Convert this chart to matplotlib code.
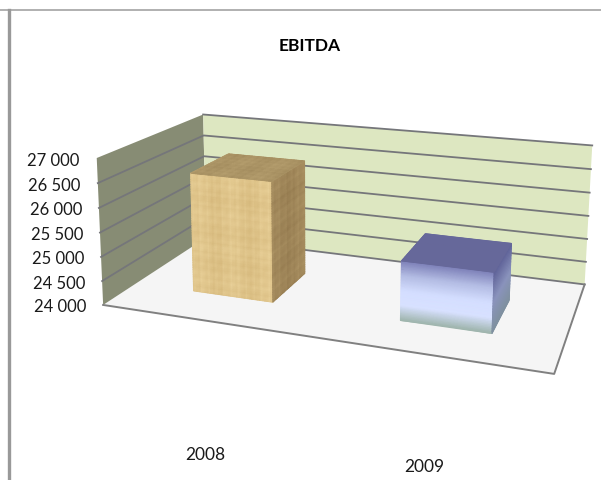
#!/usr/bin/env python3
"""
EBITDA 3D-style column chart, drawn on a flat axes with a small camera fit
"""

import numpy as np
import matplotlib.pyplot as plt
from matplotlib.colors import LinearSegmentedColormap

years = ["2008", "2009"]
ebitda = [26500, 25200]
tick_values = [24000, 24500, 25000, 25500, 26000, 26500, 27000]
tick_labels = ["24 000", "24 500", "25 000", "25 500", "26 000", "26 500", "27 000"]

plt.rcParams['font.family'] = ['Lato', 'DejaVu Sans']

Y_MIN = tick_values[0]
Y_MAX = tick_values[-1]

# Box corners (u, v, w) -> picture pixels. u across, v depth, w height
corners = [
    ((0, 0, 0), (104, 305)),
    ((0, 0, 1), (96, 159)),
    ((0, 1, 0), (205, 240)),
    ((0, 1, 1), (204, 115)),
    ((1, 1, 0), (585, 284)),
    ((1, 1, 1), (592, 147)),
    ((1, 0, 0), (554, 376)),
]

rows = []
for (u, v, w), (px, py) in corners:
    rows.append([u, v, w, 1, 0, 0, 0, 0, -px*u, -px*v, -px*w, -px])
    rows.append([0, 0, 0, 0, u, v, w, 1, -py*u, -py*v, -py*w, -py])
camera = np.linalg.svd(np.array(rows, dtype=float))[2][-1].reshape(3, 4)


def project(u, v, w):
    """
    Camera projection, gives picture x and y
    """
    u, v, w = np.broadcast_arrays(u, v, w)
    pts = np.stack([u, v, w, np.ones_like(u, dtype=float)], axis=-1)
    q = pts @ camera.T
    return q[..., 0] / q[..., 2], q[..., 1] / q[..., 2]


def height(value):
    return (value - Y_MIN) / (Y_MAX - Y_MIN)


def quad(p0, p1, p2, p3, color, z=1):
    xy = [project(*p) for p in (p0, p1, p2, p3)]
    ax.fill([a[0] for a in xy], [a[1] for a in xy], color=color, lw=0, zorder=z)


def face(p0, du, dv, dw, shade, cmap, z=3):
    """
    Shaded bar face, p0 plus steps along two edges given by du/dv/dw pairs
    """
    n, m = shade.shape
    s = np.linspace(0, 1, m)[None, :]
    t = np.linspace(0, 1, n)[:, None]
    U = p0[0] + du[0]*s + du[1]*t
    V = p0[1] + dv[0]*s + dv[1]*t
    W = p0[2] + dw[0]*s + dw[1]*t
    X, Y = project(U, V, W)
    ax.pcolormesh(X, Y, shade, shading='gouraud', cmap=cmap, vmin=0, vmax=1, zorder=z)


def wood(n, m, phase):
    """
    Papyrus look for the first bar, only stripes of sines
    """
    s = np.arange(m)[None, :]
    t = np.arange(n)[:, None]
    g = (0.7*np.sin(s*1.37 + phase) + 0.8*np.sin(s*0.31 + phase) + 0.5*np.sin(s*2.71)
         + 0.6*np.sin(t*1.73 + phase) + 0.5*np.sin(t*0.47) + 0.4*np.sin(t*3.3)
         + 0.3*np.sin(s*0.9 + t*1.1)) / 3.8
    return 0.5 + 0.4*g


fig = plt.figure(figsize=(6.01, 4.81), dpi=100)
ax = fig.add_axes([0, 0, 1, 1])
ax.set_xlim(0, 601)
ax.set_ylim(481, 0)
ax.axis('off')

# Outer frame of the screenshot
ax.plot([0, 601], [11, 11], color='#a3a3a3', lw=1.2, zorder=0)
ax.plot([9, 9], [11, 481], color='#999999', lw=2.4, zorder=0)

# Walls and floor
quad((0, 0, 0), (1, 0, 0), (1, 1, 0), (0, 1, 0), '#f5f5f5')
quad((0, 0, 0), (0, 1, 0), (0, 1, 1), (0, 0, 1), '#878c74')
quad((0, 1, 0), (1, 1, 0), (1, 1, 1), (0, 1, 1), '#dde7c1')

for val, lab in zip(tick_values, tick_labels):
    w = height(val)
    xs, ys = project([0, 0, 1], [0, 1, 1], [w, w, w])
    # first and last level have no line on the side wall
    start = 1 if val in (Y_MIN, Y_MAX) else 0
    ax.plot(xs[start:], ys[start:], color='#75767a', lw=1.3, zorder=2)
    ax.text(xs[0] - 17, ys[0] + 1.5, lab, ha='right', va='center',
            fontsize=12, color='#1a1a1a')

xs, ys = project([0, 1, 1], [0, 0, 1], [0, 0, 0])
ax.plot(xs, ys, color='#808080', lw=1.4, zorder=2)

# Columns
BAR_U = 0.40       # share of the category band
BAR_V0, BAR_V1 = 0.29, 0.68

wood_front = LinearSegmentedColormap.from_list('wf', ['#cfb072', '#f0d9a3'])
wood_side = LinearSegmentedColormap.from_list('ws', ['#8c7248', '#b59c6c'])
wood_top = LinearSegmentedColormap.from_list('wt', ['#9c8558', '#bea776'])
blue_front = LinearSegmentedColormap.from_list(
    'bf', ['#7d80b8', '#b4bde4', '#d4deff', '#d8e1ff', '#9fb5ad'])
blue_side = LinearSegmentedColormap.from_list(
    'bs', ['#5f6298', '#8a93bd', '#7f90a0'])
blue_top = LinearSegmentedColormap.from_list('bt', ['#66689a', '#66689a'])

band = 1 / len(years)
for i, val in enumerate(ebitda):
    w = height(val)
    left = band*(i + 0.5) - band*BAR_U/2
    right = left + band*BAR_U
    du = right - left
    dv = BAR_V1 - BAR_V0
    ramp = np.linspace(0, 1, 40)[:, None] * np.ones((40, 2))

    if i == 0:
        shades = (wood(50, 50, 0.0), wood(50, 25, 1.2), wood(25, 50, 2.4))
        maps = (wood_front, wood_side, wood_top)
    else:
        shades = (ramp, ramp, ramp)
        maps = (blue_front, blue_side, blue_top)

    # front, side, top
    face((left, BAR_V0, w), (du, 0), (0, 0), (0, -w), shades[0], maps[0])
    face((right, BAR_V0, w), (0, 0), (dv, 0), (0, -w), shades[1], maps[1])
    face((left, BAR_V0, w), (du, 0), (0, dv), (0, 0), shades[2], maps[2])

# Text
ax.text(310, 46, "EBITDA", ha='center', va='center', fontsize=12.5,
        fontweight='bold', color='black')
year_pos = [(205, 455), (424, 467)]
for lab, (px, py) in zip(years, year_pos):
    ax.text(px, py, lab, ha='center', va='center', fontsize=12.5, color='#1a1a1a')

fig.savefig('out.png', dpi=100)
